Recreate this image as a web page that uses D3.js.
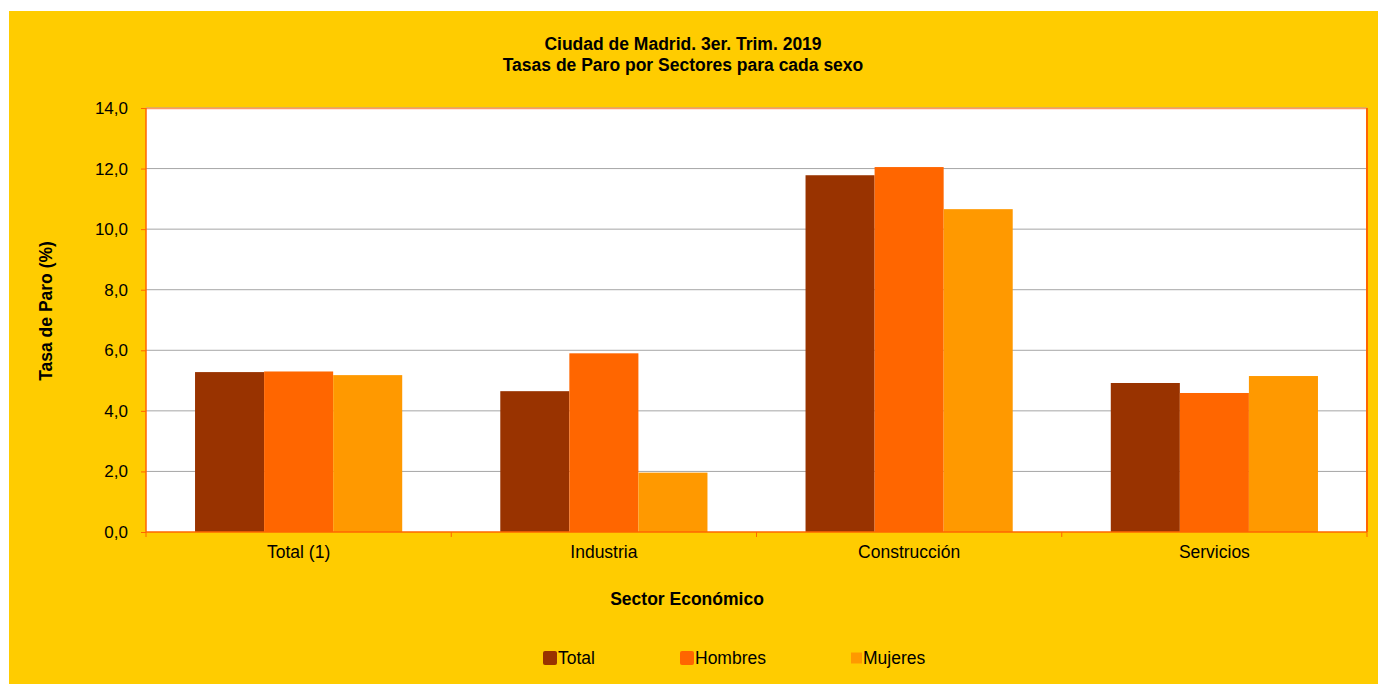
<!DOCTYPE html>
<html><head><meta charset="utf-8">
<script src="https://cdn.jsdelivr.net/npm/d3@7"></script>
<style>body{margin:0;background:#fff;}svg{display:block;font-family:"Liberation Sans",Arial,sans-serif;}</style>
</head><body>
<svg id="c" width="1378" height="684"></svg>
<script>
const categories = ["Total (1)", "Industria", "Construcción", "Servicios"];
const seriesNames = ["Total", "Hombres", "Mujeres"];
const totalVals = [5.28, 4.65, 11.78, 4.92];
const hombresVals = [5.30, 5.90, 12.05, 4.59];
const mujeresVals = [5.18, 1.96, 10.66, 5.15];
const yTicks = [0, 2, 4, 6, 8, 10, 12, 14];
const colors = ["#993300", "#FF6600", "#FF9900"];
const seriesVals = [totalVals, hombresVals, mujeresVals];

const svg = d3.select("#c");
svg.append("rect").attr("x", 9).attr("y", 11).attr("width", 1369).attr("height", 673).attr("fill", "#FFCC00");

const L = 146, R = 1367, T = 108, B = 532;
const x = d3.scaleBand().domain(categories).range([L, R]).paddingInner(0).paddingOuter(0);
const y = d3.scaleLinear().domain([0, 14]).range([B, T]);
const xs = d3.scaleBand().domain(seriesNames).range([0, x.bandwidth()]).paddingOuter(0.71).paddingInner(0);

svg.append("rect").attr("x", L).attr("y", T).attr("width", R - L).attr("height", B - T).attr("fill", "#fff");

// grid
svg.append("g").selectAll("line").data(yTicks.filter(d => d > 0)).join("line")
  .attr("x1", L).attr("x2", R).attr("y1", d => y(d)).attr("y2", d => y(d))
  .attr("stroke", "#a6a6a6").attr("stroke-width", 1);

// bars
seriesNames.forEach((s, i) => {
  svg.append("g").selectAll("rect").data(categories).join("rect")
    .attr("x", d => x(d) + xs(s))
    .attr("width", xs.bandwidth())
    .attr("y", (d, j) => y(seriesVals[i][j]))
    .attr("height", (d, j) => B - y(seriesVals[i][j]))
    .attr("fill", colors[i]);
});

// border
svg.append("line").attr("x1", L).attr("x2", R).attr("y1", T + 0.5).attr("y2", T + 0.5).attr("stroke", "#FF9966").attr("stroke-width", 1.5);
svg.append("line").attr("x1", R).attr("x2", R).attr("y1", T).attr("y2", B).attr("stroke", "#FF6600").attr("stroke-width", 2);

const FF = "Liberation Sans, Arial, sans-serif";
// y axis
const ya = svg.append("g").attr("transform", `translate(${L},0)`)
  .call(d3.axisLeft(y).tickValues(yTicks).tickSize(5).tickPadding(13).tickFormat(d => d3.format(".1f")(d).replace(".", ",")));
ya.select(".domain").attr("stroke", "#FF6600").attr("stroke-width", 1.5).attr("d", `M0,${T}V${B}`);
ya.selectAll(".tick line").attr("stroke", "#FF6600");
ya.selectAll("text").attr("font-size", 17).attr("fill", "#000").attr("font-family", FF);

// x axis
const xa = svg.append("g").attr("transform", `translate(0,${B})`)
  .call(d3.axisBottom(x).tickSize(0).tickPadding(14));
xa.select(".domain").attr("stroke", "#FF6600").attr("stroke-width", 1.5).attr("d", `M${L},0H${R}`);
xa.selectAll("text").attr("font-size", 17.5).attr("fill", "#000").attr("font-family", FF);
xa.append("g").selectAll("line").data(categories.concat(["end"])).join("line")
  .attr("x1", (d, i) => L + i * x.bandwidth()).attr("x2", (d, i) => L + i * x.bandwidth())
  .attr("y1", 0).attr("y2", 5).attr("stroke", "#FF6600");

// titles
svg.append("text").attr("x", 683).attr("y", 50).attr("text-anchor", "middle").attr("font-weight", "bold").attr("font-size", 17.5).text("Ciudad de Madrid. 3er. Trim. 2019");
svg.append("text").attr("x", 683).attr("y", 71).attr("text-anchor", "middle").attr("font-weight", "bold").attr("font-size", 17.5).text("Tasas de Paro por Sectores para cada sexo");
svg.append("text").attr("x", 687).attr("y", 605).attr("text-anchor", "middle").attr("font-weight", "bold").attr("font-size", 17.5).text("Sector Económico");
svg.append("text").attr("transform", "translate(52,311) rotate(-90)").attr("text-anchor", "middle").attr("font-weight", "bold").attr("font-size", 17.5).text("Tasa de Paro (%)");

// legend
const legX = [543, 680, 851];
const legSize = [14, 14, 11];
const lg = svg.append("g").selectAll("g").data(seriesNames).join("g");
lg.append("rect").attr("x", (d, i) => legX[i]).attr("y", (d, i) => 658 - legSize[i] / 2).attr("width", (d, i) => legSize[i]).attr("height", (d, i) => legSize[i]).attr("rx", (d,i)=> i<2?2:0).attr("fill", (d, i) => colors[i]);
lg.append("text").attr("x", (d, i) => legX[i] + legSize[i] + 1).attr("y", 664).attr("font-size", 17.5).text(d => d);
</script>
</body></html>
